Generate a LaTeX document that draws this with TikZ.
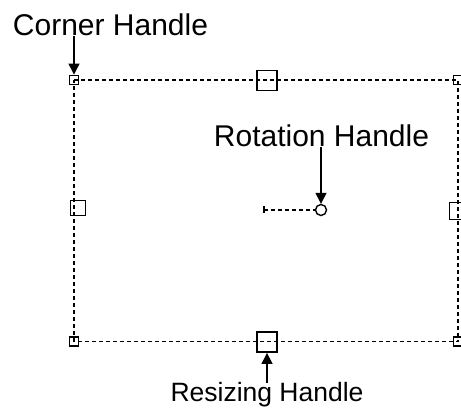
\documentclass[tikz,border=0pt]{standalone}
\usepackage{fontspec}
\setmainfont{Liberation Sans}
\usetikzlibrary{arrows.meta}
\begin{document}
\begin{tikzpicture}[x=1pt,y=-1pt,
  frame/.style={line width=1.3pt, dash pattern=on 4pt off 3pt},
  bighandle/.style={draw, line width=1.9pt, minimum size=#1, inner sep=0pt},
  smallhandle/.style={draw, line width=1.9pt, minimum size=9pt, inner sep=0pt},
  lbl/.style={inner sep=0pt, anchor=base},
  pointer/.style={line width=1.3pt, -{Triangle[width=11pt,length=11pt]}}]
\useasboundingbox (0,0) rectangle (461,411);
% corners of the frame
\coordinate (tl) at (74,80);
\coordinate (tr) at (458,80);
\coordinate (br) at (458,341.5);
\coordinate (bl) at (74,341.5);
\draw[frame] (tl) -- (tr) -- (br) -- (bl) -- cycle;
% corner handles
\node[smallhandle] (htl) at (tl) {};
\node[smallhandle] (htr) at (tr) {};
\node[smallhandle] (hbr) at (br) {};
\node[smallhandle] (hbl) at (bl) {};
% side handles
\node[bighandle=20pt] (ht) at (266.7,80.5) {};
\node[bighandle=20pt] (hb) at (267,342) {};
\node[bighandle=15pt] (hl) at (78,208) {};
\node[bighandle=17pt] (hr) at (458,211) {};
% rotation handle
\coordinate (tick) at (264,210);
\node[draw, circle, line width=1.4pt, minimum size=11pt, inner sep=0pt] (rot) at (321,210) {};
\draw[line width=1.3pt] (264,206.5) -- (264,213.5);
\draw[frame] (tick) -- (rot.west);
% labels
\node[lbl, font=\fontsize{30}{36}\selectfont] (clbl) at (110.5,36) {Corner Handle};
\node[lbl, font=\fontsize{30}{36}\selectfont] (rlbl) at (321.5,147) {Rotation Handle};
\node[lbl, font=\fontsize{26.5}{32}\selectfont] (slbl) at (267,402) {Resizing Handle};
% pointers
\draw[pointer] (htl.north |- clbl.south) -- (htl.north);
\draw[pointer] (rot.north |- rlbl.south) -- (rot.north);
\draw[pointer] (hb.south |- slbl.north) -- (hb.south);
\end{tikzpicture}
\end{document}
